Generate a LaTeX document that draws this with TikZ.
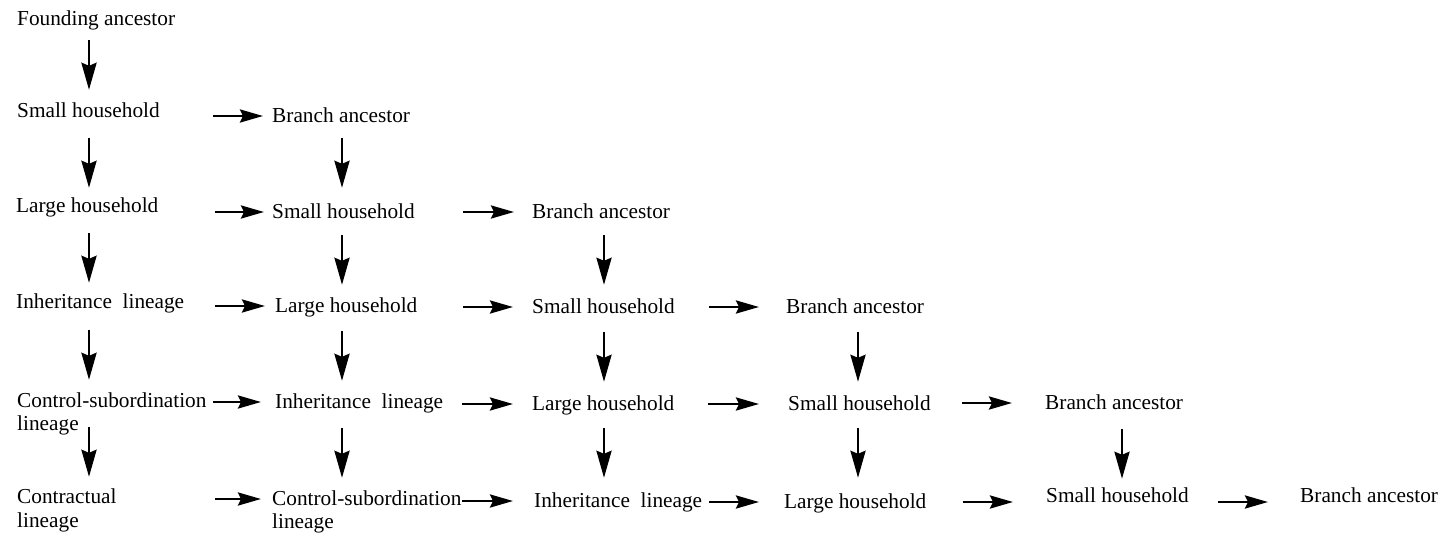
\documentclass[tikz,border=0pt]{standalone}
\usepackage{fontspec}
\setmainfont{Liberation Serif}
\usetikzlibrary{arrows.meta}

% vertical and horizontal links: node, node, [column], start gap, end gap
\newcommand\vlink[5]{\draw[varr,shorten <=#4pt,shorten >=#5pt] (#1.south -| #3) -- (#2.north -| #3);}
\newcommand\hlink[4]{\draw[harr,shorten <=#3pt,shorten >=#4pt] (#1.east |- #2.west) -- (#2.west);}
\newcommand\hlinkbase[4]{\draw[harr,shorten <=#3pt,shorten >=#4pt] (#1.east |- #2.base west) -- (#2.base west);}

\begin{document}
\begin{tikzpicture}[x=1pt,y=-1pt,
  lbl/.style={anchor=base west,inner sep=0pt,text height=17pt,text depth=5pt,
    font=\fontsize{21.3}{25.5}\selectfont},
  varr/.style={line width=2.8pt,-{Stealth[length=27pt,width=15pt,inset=3pt]}},
  harr/.style={line width=2.8pt,-{Stealth[length=23pt,width=13pt,inset=3pt]}}]
\useasboundingbox (0,0) rectangle (1447,543);

% column axes of the vertical links
\coordinate (k1) at (89,0);
\coordinate (k2) at (342,0);
\coordinate (k3) at (604,0);
\coordinate (k4) at (858,0);
\coordinate (k5) at (1122,0);

% row 0
\node[lbl] (f0) at (17,26) {Founding ancestor};
% row 1
\node[lbl] (a1) at (17,117) {Small household};
\node[lbl] (b1) at (272,122) {Branch ancestor};
% row 2
\node[lbl] (a2) at (16,212) {Large household};
\node[lbl] (b2) at (272,218) {Small household};
\node[lbl] (c2) at (532,218) {Branch ancestor};
% row 3
\node[lbl] (a3) at (16,308) {Inheritance\ \ lineage};
\node[lbl] (b3) at (275,312) {Large household};
\node[lbl] (c3) at (532,313) {Small household};
\node[lbl] (d3) at (786,313) {Branch ancestor};
% row 4
\node[lbl] (a4) at (17,407) {Control-subordination};
\node[lbl] (a4l) at (17,430) {lineage};
\node[lbl] (b4) at (275,408) {Inheritance\ \ lineage};
\node[lbl] (c4) at (532,410) {Large household};
\node[lbl] (d4) at (788,410) {Small household};
\node[lbl] (e4) at (1045,409) {Branch ancestor};
% row 5
\node[lbl] (a5) at (17,503) {Contractual};
\node[lbl] (a5l) at (17,527) {lineage};
\node[lbl] (b5) at (272,505) {Control-subordination};
\node[lbl] (b5l) at (272,528) {lineage};
\node[lbl] (c5) at (534,507) {Inheritance\ \ lineage};
\node[lbl] (d5) at (784,508) {Large household};
\node[lbl] (e5) at (1046,502) {Small household};
\node[lbl] (f5) at (1300,502) {Branch ancestor};

% downward links
\vlink{f0}{a1}{k1}{9}{10}
\vlink{a1}{a2}{k1}{16}{7}
\vlink{a2}{a3}{k1}{16}{8}
\vlink{a3}{a4}{k1}{17}{10}
\vlink{a4}{a5}{k1}{15}{9}
\vlink{b1}{b2}{k2}{11}{13}
\vlink{b2}{b3}{k2}{12}{10}
\vlink{b3}{b4}{k2}{14}{10}
\vlink{b4}{b5}{k2}{15}{10}
\vlink{c2}{c3}{k3}{12}{11}
\vlink{c3}{c4}{k3}{14}{11}
\vlink{c4}{c5}{k3}{13}{12}
\vlink{d3}{d4}{k4}{14}{11}
\vlink{d4}{d5}{k4}{13}{13}
\vlink{e4}{e5}{k5}{15}{6}

% rightward links
\hlink{a1}{b1}{53.4}{9}
\hlink{a2}{b2}{56.4}{8}
\hlink{b2}{c2}{48.4}{18}
\hlink{a3}{b3}{31}{10}
\hlink{b3}{c3}{45.4}{19}
\hlink{c3}{d3}{34.4}{27}
\hlink{a4}{b4}{6.7}{14}
\hlink{b4}{c4}{19}{19}
\hlink{c4}{d4}{33.4}{29}
\hlink{d4}{e4}{31.4}{33}
\hlink{a5}{b5}{98.6}{11}
\hlink{b5}{c5}{0.7}{21}
\hlink{c5}{d5}{7}{25}
\hlinkbase{d5}{e5}{36.4}{33}
\hlinkbase{e5}{f5}{29.4}{32}
\end{tikzpicture}
\end{document}
